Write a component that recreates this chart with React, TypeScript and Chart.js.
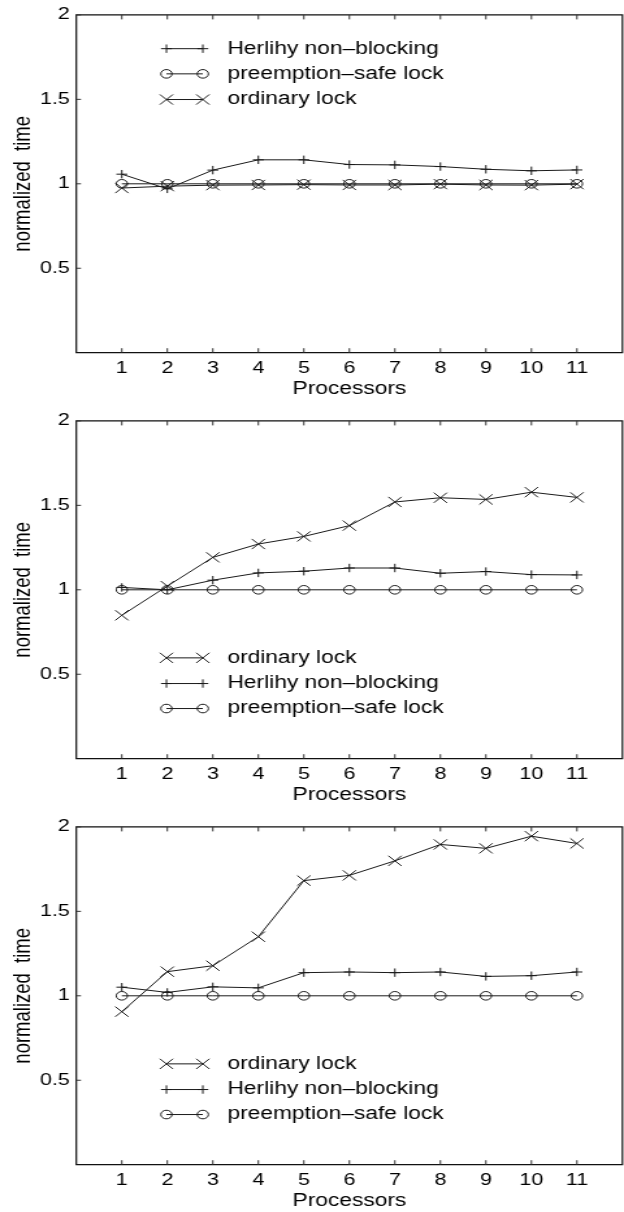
import React, { useEffect, useRef } from 'react';
import { Chart, registerables } from 'chart.js';

Chart.register(...registerables);

// ---------- data ----------
const processors = [1, 2, 3, 4, 5, 6, 7, 8, 9, 10, 11];
const xTickValues = [1, 2, 3, 4, 5, 6, 7, 8, 9, 10, 11];
const yTickValues = [0.5, 1, 1.5, 2];
const yTickLabels = ['0.5', '1', '1.5', '2'];

const LABEL_HERLIHY = 'Herlihy non\u2013blocking';
const LABEL_PREEMPT = 'preemption\u2013safe lock';
const LABEL_ORDINARY = 'ordinary lock';

// panel 1
const herlihy1 = [1.057, 0.97, 1.081, 1.142, 1.142, 1.114, 1.112, 1.102, 1.086, 1.077, 1.082];
const preempt1 = [1.0, 1.0, 1.0, 1.0, 1.0, 1.0, 1.0, 1.0, 1.0, 1.0, 1.0];
const ordinary1 = [0.975, 0.986, 0.992, 0.993, 0.995, 0.993, 0.993, 0.998, 0.993, 0.992, 0.998];

// panel 2
const ordinary2 = [0.849, 1.022, 1.192, 1.271, 1.316, 1.38, 1.52, 1.545, 1.535, 1.578, 1.547];
const herlihy2 = [1.014, 1.0, 1.057, 1.1, 1.11, 1.129, 1.129, 1.098, 1.108, 1.09, 1.088];
const preempt2 = [1.0, 1.0, 1.0, 1.0, 1.0, 1.0, 1.0, 1.0, 1.0, 1.0, 1.0];

// panel 3
const ordinary3 = [0.906, 1.143, 1.178, 1.35, 1.682, 1.713, 1.799, 1.896, 1.873, 1.945, 1.902];
const herlihy3 = [1.051, 1.02, 1.053, 1.047, 1.137, 1.141, 1.137, 1.141, 1.115, 1.119, 1.141];
const preempt3 = [1.0, 1.0, 1.0, 1.0, 1.0, 1.0, 1.0, 1.0, 1.0, 1.0, 1.0];

// ---------- styling ----------
const FONT = "'Liberation Sans', Arial, Helvetica, sans-serif";
const STRETCH = 1.3;
const CANVAS_W = 487;
const CANVAS_H = 404;
const LINE_COLOR = '#1a1a1a';

type Kind = 'herlihy' | 'preempt' | 'ordinary';

const markerStyle: Record<Kind, { pointStyle: string; radius: number }> = {
  herlihy: { pointStyle: 'cross', radius: 4.2 },
  preempt: { pointStyle: 'circle', radius: 4.3 },
  ordinary: { pointStyle: 'crossRot', radius: 7.2 },
};

const labelOf: Record<Kind, string> = {
  herlihy: LABEL_HERLIHY,
  preempt: LABEL_PREEMPT,
  ordinary: LABEL_ORDINARY,
};

function drawMarker(ctx: CanvasRenderingContext2D, kind: Kind, x: number, y: number) {
  const r = markerStyle[kind].radius;
  ctx.beginPath();
  if (kind === 'preempt') {
    ctx.arc(x, y, r, 0, Math.PI * 2);
  } else if (kind === 'herlihy') {
    ctx.moveTo(x - r, y);
    ctx.lineTo(x + r, y);
    ctx.moveTo(x, y - r);
    ctx.lineTo(x, y + r);
  } else {
    const d = r * Math.SQRT1_2;
    ctx.moveTo(x - d, y - d);
    ctx.lineTo(x + d, y + d);
    ctx.moveTo(x + d, y - d);
    ctx.lineTo(x - d, y + d);
  }
  ctx.stroke();
}

const framePlugin = {
  id: 'matFrame',
  afterDraw(chart: any) {
    const { ctx, chartArea, scales } = chart;
    const { left, right, top, bottom } = chartArea;
    const xs = scales.x;
    const ys = scales.y;
    ctx.save();
    ctx.strokeStyle = '#111';
    ctx.lineWidth = 1.2;
    ctx.beginPath();
    ctx.moveTo(left, top);
    ctx.lineTo(right, top);
    ctx.lineTo(right, bottom);
    ctx.lineTo(left, bottom);
    ctx.closePath();
    ctx.stroke();
    ctx.lineWidth = 1;
    ctx.strokeStyle = '#333';
    ctx.beginPath();
    xTickValues.forEach((v) => {
      const px = xs.getPixelForValue(v);
      ctx.moveTo(px, bottom);
      ctx.lineTo(px, bottom - 4.5);
      ctx.moveTo(px, top);
      ctx.lineTo(px, top + 4.5);
    });
    yTickValues.forEach((v) => {
      const py = ys.getPixelForValue(v);
      ctx.moveTo(left, py);
      ctx.lineTo(left + 3.6, py);
    });
    ctx.stroke();
    ctx.restore();
  },
};

const legendPlugin = {
  id: 'matLegend',
  afterDraw(chart: any, _args: any, opts: any) {
    const { ctx, scales } = chart;
    const xs = scales.x;
    const ys = scales.y;
    const kinds: Kind[] = opts.kinds;
    const x0 = xs.getPixelForValue(opts.x0);
    const x1 = xs.getPixelForValue(opts.x1);
    const xt = xs.getPixelForValue(opts.xt);
    ctx.save();
    kinds.forEach((k, i) => {
      const py = ys.getPixelForValue(opts.rows[i]);
      ctx.strokeStyle = LINE_COLOR;
      ctx.lineWidth = 1;
      ctx.beginPath();
      ctx.moveTo(x0, py);
      ctx.lineTo(x1, py);
      ctx.stroke();
      drawMarker(ctx, k, x0, py);
      drawMarker(ctx, k, x1, py);
      ctx.fillStyle = '#000';
      ctx.font = `17.5px ${FONT}`;
      ctx.textAlign = 'left';
      ctx.textBaseline = 'middle';
      ctx.fillText(labelOf[k], xt, py);
    });
    ctx.restore();
  },
};

type PanelProps = {
  top: number;
  series: { kind: Kind; values: number[] }[];
  legendRows: number[];
};

function Panel({ top, series, legendRows }: PanelProps) {
  const ref = useRef<HTMLCanvasElement | null>(null);
  useEffect(() => {
    if (!ref.current) return;
    const chart = new Chart(ref.current, {
      type: 'line',
      data: {
        datasets: series.map((s) => ({
          label: labelOf[s.kind],
          data: processors.map((p, i) => ({ x: p, y: s.values[i] })),
          borderColor: LINE_COLOR,
          borderWidth: 1,
          backgroundColor: 'rgba(0,0,0,0)',
          pointStyle: markerStyle[s.kind].pointStyle as any,
          pointRadius: markerStyle[s.kind].radius,
          pointBorderColor: LINE_COLOR,
          pointBackgroundColor: 'rgba(0,0,0,0)',
          pointBorderWidth: 1,
          tension: 0,
          fill: false,
        })),
      },
      options: {
        animation: false,
        responsive: false,
        devicePixelRatio: 1,
        events: [],
        layout: { padding: { top: 13.3, left: 0, right: 0, bottom: 0 } },
        plugins: {
          legend: { display: false },
          tooltip: { enabled: false },
          matLegend: { kinds: series.map((s) => s.kind), rows: legendRows, x0: 1.98, x1: 2.78, xt: 3.32 },
        } as any,
        scales: {
          x: {
            type: 'linear',
            min: 0,
            max: 12,
            grid: { display: false, drawTicks: false },
            border: { display: false },
            afterBuildTicks: (axis: any) => {
              axis.ticks = xTickValues.map((v) => ({ value: v }));
            },
            afterFit: (axis: any) => {
              axis.height = CANVAS_H - 352.7;
            },
            ticks: {
              autoSkip: false,
              maxRotation: 0,
              padding: 6,
              color: '#000',
              font: { family: FONT, size: 16.5 },
              callback: (v: any) => String(v),
            },
            title: {
              display: true,
              text: 'Processors',
              color: '#000',
              font: { family: FONT, size: 17.5 },
              padding: { top: 0, bottom: 4.5 },
            },
          },
          y: {
            type: 'linear',
            min: 0,
            max: 2,
            grid: { display: false, drawTicks: false },
            border: { display: false },
            afterBuildTicks: (axis: any) => {
              axis.ticks = yTickValues.map((v) => ({ value: v }));
            },
            afterFit: (axis: any) => {
              axis.width = 58.7;
            },
            ticks: {
              padding: 5,
              color: '#000',
              font: { family: FONT, size: 16.5 },
              callback: (v: any) => {
                const i = yTickValues.indexOf(Number(v));
                return i >= 0 ? yTickLabels[i] : '';
              },
            },
            title: {
              display: true,
              text: 'normalized  time',
              color: '#000',
              font: { family: FONT, size: 18.5 },
              padding: { top: 6.6, bottom: 0 },
            },
          },
        },
      },
      plugins: [framePlugin, legendPlugin],
    });
    return () => chart.destroy();
  }, []);
  return (
    <div style={{ position: 'absolute', left: 0, top, width: 624, height: CANVAS_H, overflow: 'hidden' }}>
      <canvas
        ref={ref}
        width={CANVAS_W}
        height={CANVAS_H}
        style={{
          width: CANVAS_W,
          height: CANVAS_H,
          display: 'block',
          transform: `scaleX(${STRETCH})`,
          transformOrigin: '0 0',
        }}
      />
    </div>
  );
}

export default function App() {
  return (
    <div style={{ position: 'absolute', left: 0, top: 0, width: 624, height: 1212, overflow: 'hidden', background: '#fff' }}>
      <Panel
        top={0}
        series={[
          { kind: 'herlihy', values: herlihy1 },
          { kind: 'preempt', values: preempt1 },
          { kind: 'ordinary', values: ordinary1 },
        ]}
        legendRows={[1.8, 1.651, 1.499]}
      />
      <Panel
        top={406}
        series={[
          { kind: 'ordinary', values: ordinary2 },
          { kind: 'herlihy', values: herlihy2 },
          { kind: 'preempt', values: preempt2 },
        ]}
        legendRows={[0.597, 0.445, 0.297]}
      />
      <Panel
        top={812}
        series={[
          { kind: 'ordinary', values: ordinary3 },
          { kind: 'herlihy', values: herlihy3 },
          { kind: 'preempt', values: preempt3 },
        ]}
        legendRows={[0.597, 0.445, 0.297]}
      />
    </div>
  );
}
